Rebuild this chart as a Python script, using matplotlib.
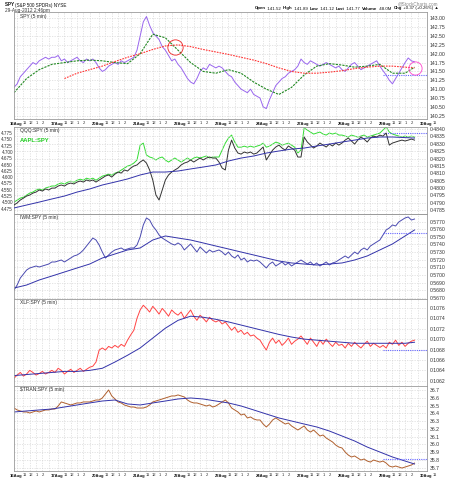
import numpy as np
import matplotlib
matplotlib.use("Agg")
import matplotlib.pyplot as plt

plt.rcParams['font.family'] = ['Liberation Sans', 'DejaVu Sans']
NARROW = ['Liberation Sans Narrow', 'Liberation Sans', 'DejaVu Sans']

# ---------------- data ----------------
day_labels = ["16Aug", "17Aug", "20Aug", "21Aug", "22Aug", "23Aug", "24Aug",
              "27Aug", "28Aug", "29Aug", "30Aug"]
hour_labels = ["11", "12", "1", "2"]

# half-hour samples, 13 per session (9:30 .. 15:30), last session to 14:30
spy = [141.05, 141.15, 141.35, 141.45, 141.55, 141.65, 141.75, 141.70, 141.80, 141.85, 141.90, 141.85, 141.90,
       141.90, 141.95, 141.80, 141.85, 141.75, 141.80, 141.85, 141.90, 141.80, 141.75, 141.85, 141.80, 141.85,
       141.75, 141.60, 141.50, 141.55, 141.65, 141.70, 141.75, 141.70, 141.80, 141.75, 141.80, 141.85, 141.90,
       142.10, 142.50, 142.90, 143.05, 142.80, 142.60, 142.50, 142.40, 142.20, 142.10, 141.95, 141.80, 141.85,
       141.70, 141.60, 141.45, 141.30, 141.20, 141.15, 141.30, 141.50, 141.60, 141.55, 141.70, 141.65, 141.60,
       141.65, 141.60, 141.50, 141.40, 141.35, 141.20, 141.10, 141.00, 140.95, 140.90, 141.00, 140.85, 140.80,
       140.75, 140.50, 140.45, 140.70, 140.90, 141.10, 141.20, 141.30, 141.35, 141.45, 141.50, 141.55, 141.65,
       141.85, 141.75, 141.70, 141.80, 141.75, 141.70, 141.65, 141.70, 141.75, 141.70, 141.65, 141.60, 141.65,
       141.55, 141.50, 141.60, 141.70, 141.75, 141.65, 141.55, 141.60, 141.65, 141.70, 141.75, 141.80, 141.65,
       141.52, 141.40, 141.25, 141.15, 141.30, 141.45, 141.60, 141.75, 141.88, 141.80, 141.77]
# moving averages sampled every 4 half-hours (plus last)
spy_ma_fast = [140.90, 141.30, 141.55, 141.70, 141.75, 141.80, 141.82, 141.80, 141.75, 141.72, 142.00,
               142.55, 142.45, 142.10, 141.75, 141.50, 141.45, 141.55, 141.45, 141.20, 141.00, 140.85,
               141.05, 141.40, 141.65, 141.72, 141.68, 141.62, 141.65, 141.70, 141.45, 141.45, 141.62]
spy_ma_slow = [141.30, 141.45, 141.55, 141.65, 141.78, 141.90, 142.00, 142.12, 142.22, 142.25, 142.20,
               142.12, 142.05, 141.98, 141.90, 141.82, 141.72, 141.60, 141.50, 141.45, 141.45, 141.48,
               141.52, 141.58, 141.62, 141.65, 141.65, 141.62, 141.60]
spy_prev_close = 141.40

qqq_spy = [0.47884, 0.47898, 0.47918, 0.47931, 0.47945, 0.47952, 0.47965, 0.47972, 0.47986, 0.47979, 0.47993, 0.47986, 0.47999,
           0.47999, 0.48013, 0.48020, 0.48013, 0.48027, 0.48033, 0.48027, 0.48040, 0.48047, 0.48040, 0.48054, 0.48047, 0.48054,
           0.48040, 0.48054, 0.48067, 0.48081, 0.48088, 0.48074, 0.48094, 0.48108, 0.48101, 0.48122, 0.48115, 0.48135, 0.48149,
           0.48156, 0.48176, 0.48190, 0.48169, 0.48122, 0.48054, 0.47952, 0.47918, 0.47986, 0.48054, 0.48088, 0.48108, 0.48122,
           0.48135, 0.48156, 0.48169, 0.48176, 0.48190, 0.48176, 0.48190, 0.48203, 0.48190, 0.48203, 0.48210, 0.48203, 0.48203,
           0.48176, 0.48135, 0.48122, 0.48257, 0.48325, 0.48271, 0.48237, 0.48230, 0.48244, 0.48237, 0.48244, 0.48230, 0.48237,
           0.48257, 0.48278, 0.48190, 0.48223, 0.48257, 0.48278, 0.48291, 0.48271, 0.48257, 0.48285, 0.48271, 0.48257, 0.48210,
           0.48210, 0.48346, 0.48312, 0.48291, 0.48271, 0.48285, 0.48305, 0.48291, 0.48278, 0.48298, 0.48285, 0.48305, 0.48291,
           0.48305, 0.48325, 0.48339, 0.48319, 0.48298, 0.48325, 0.48346, 0.48332, 0.48312, 0.48339, 0.48352, 0.48346, 0.48359,
           0.48352, 0.48373, 0.48291, 0.48305, 0.48312, 0.48319, 0.48325, 0.48319, 0.48325, 0.48332, 0.48325]
qqq_spy_ma = [0.47864, 0.47884, 0.47904, 0.47925, 0.47945, 0.47972, 0.47993, 0.48020, 0.48040, 0.48061, 0.48088,
              0.48108, 0.48108, 0.48115, 0.48129, 0.48142, 0.48156, 0.48183, 0.48203, 0.48217, 0.48237, 0.48251,
              0.48264, 0.48271, 0.48285, 0.48298, 0.48312, 0.48325, 0.48339, 0.48346, 0.48346, 0.48342, 0.48339]
qqq_spy_prev = 0.48375
aapl_spy = [4.501, 4.509, 4.517, 4.521, 4.529, 4.537, 4.541, 4.549, 4.553, 4.549, 4.557, 4.561, 4.565,
            4.565, 4.573, 4.577, 4.573, 4.580, 4.584, 4.580, 4.588, 4.592, 4.588, 4.596, 4.592, 4.596,
            4.588, 4.596, 4.604, 4.608, 4.612, 4.608, 4.616, 4.620, 4.628, 4.636, 4.644, 4.648, 4.656,
            4.668, 4.727, 4.735, 4.688, 4.680, 4.676, 4.668, 4.676, 4.680, 4.668, 4.660, 4.668, 4.676,
            4.668, 4.660, 4.668, 4.676, 4.668, 4.676, 4.680, 4.676, 4.680, 4.684, 4.676, 4.680, 4.680,
            4.680, 4.708, 4.735, 4.755, 4.767, 4.739, 4.719, 4.719, 4.723, 4.719, 4.723, 4.719, 4.723,
            4.727, 4.735, 4.719, 4.723, 4.731, 4.739, 4.735, 4.727, 4.731, 4.735, 4.727, 4.719, 4.696,
            4.708, 4.795, 4.787, 4.779, 4.771, 4.775, 4.779, 4.771, 4.767, 4.775, 4.771, 4.775, 4.767,
            4.767, 4.763, 4.759, 4.767, 4.763, 4.759, 4.763, 4.767, 4.759, 4.763, 4.767, 4.771, 4.775,
            4.787, 4.799, 4.779, 4.771, 4.767, 4.763, 4.759, 4.763, 4.759, 4.763, 4.759]

iwm_spy = [0.56801, 0.56867, 0.56959, 0.57012, 0.57064, 0.57091, 0.57104, 0.57117, 0.57104, 0.57117, 0.57130, 0.57143, 0.57170,
           0.57170, 0.57183, 0.57196, 0.57170, 0.57196, 0.57222, 0.57249, 0.57262, 0.57288, 0.57328, 0.57380, 0.57433, 0.57485,
           0.57459, 0.57393, 0.57301, 0.57222, 0.57262, 0.57301, 0.57328, 0.57341, 0.57354, 0.57328, 0.57341, 0.57354, 0.57354,
           0.57393, 0.57499, 0.57657, 0.57749, 0.57722, 0.57643, 0.57591, 0.57525, 0.57485, 0.57459, 0.57433, 0.57407, 0.57393,
           0.57420, 0.57393, 0.57328, 0.57367, 0.57407, 0.57354, 0.57301, 0.57367, 0.57328, 0.57288, 0.57328, 0.57301, 0.57314,
           0.57328, 0.57301, 0.57262, 0.57301, 0.57249, 0.57222, 0.57262, 0.57196, 0.57222, 0.57170, 0.57196, 0.57183, 0.57196,
           0.57170, 0.57130, 0.57091, 0.57143, 0.57170, 0.57117, 0.57143, 0.57170, 0.57130, 0.57157, 0.57117, 0.57143, 0.57170,
           0.57196, 0.57170, 0.57143, 0.57170, 0.57130, 0.57157, 0.57117, 0.57143, 0.57170, 0.57130, 0.57157, 0.57170, 0.57196,
           0.57222, 0.57249, 0.57222, 0.57262, 0.57301, 0.57275, 0.57328, 0.57354, 0.57328, 0.57380, 0.57407, 0.57433, 0.57459,
           0.57525, 0.57591, 0.57617, 0.57657, 0.57643, 0.57696, 0.57722, 0.57749, 0.57762, 0.57722, 0.57735]
iwm_spy_ma = [0.56827, 0.56867, 0.56933, 0.56985, 0.57038, 0.57091, 0.57143, 0.57222, 0.57275, 0.57328, 0.57354,
              0.57459, 0.57512, 0.57485, 0.57459, 0.57420, 0.57380, 0.57341, 0.57301, 0.57262, 0.57222, 0.57183,
              0.57157, 0.57143, 0.57130, 0.57143, 0.57157, 0.57196, 0.57249, 0.57328, 0.57407, 0.57512, 0.57591]
iwm_spy_prev = 0.57550

xlf_spy = [0.10625, 0.10631, 0.10636, 0.10629, 0.10633, 0.10640, 0.10636, 0.10631, 0.10634, 0.10638, 0.10633, 0.10636, 0.10640,
           0.10636, 0.10644, 0.10640, 0.10633, 0.10638, 0.10642, 0.10636, 0.10640, 0.10644, 0.10638, 0.10642, 0.10646, 0.10648,
           0.10656, 0.10679, 0.10683, 0.10679, 0.10686, 0.10683, 0.10688, 0.10684, 0.10690, 0.10686, 0.10698, 0.10708, 0.10717,
           0.10740, 0.10756, 0.10765, 0.10759, 0.10752, 0.10763, 0.10756, 0.10748, 0.10759, 0.10752, 0.10744, 0.10756, 0.10750,
           0.10746, 0.10752, 0.10740, 0.10748, 0.10756, 0.10744, 0.10736, 0.10746, 0.10740, 0.10733, 0.10742, 0.10736, 0.10733,
           0.10736, 0.10729, 0.10733, 0.10725, 0.10717, 0.10723, 0.10713, 0.10717, 0.10709, 0.10713, 0.10706, 0.10708, 0.10702,
           0.10698, 0.10688, 0.10679, 0.10694, 0.10702, 0.10692, 0.10698, 0.10688, 0.10694, 0.10702, 0.10690, 0.10696, 0.10700,
           0.10706, 0.10698, 0.10690, 0.10702, 0.10694, 0.10686, 0.10698, 0.10690, 0.10700, 0.10692, 0.10686, 0.10694, 0.10688,
           0.10690, 0.10683, 0.10692, 0.10686, 0.10694, 0.10688, 0.10683, 0.10690, 0.10696, 0.10686, 0.10692, 0.10688, 0.10684,
           0.10688, 0.10683, 0.10694, 0.10690, 0.10698, 0.10688, 0.10694, 0.10686, 0.10692, 0.10696, 0.10698]
xlf_spy_ma = [0.10630, 0.10632, 0.10634, 0.10636, 0.10638, 0.10638, 0.10640, 0.10644, 0.10656, 0.10669, 0.10683,
              0.10702, 0.10721, 0.10736, 0.10744, 0.10742, 0.10738, 0.10733, 0.10727, 0.10721, 0.10715, 0.10709,
              0.10704, 0.10700, 0.10698, 0.10696, 0.10694, 0.10692, 0.10692, 0.10692, 0.10692, 0.10692, 0.10694]
xlf_spy_prev = 0.10680

tran_spy = [36.468, 36.443, 36.430, 36.417, 36.417, 36.404, 36.417, 36.430, 36.417, 36.430, 36.443, 36.443, 36.455,
            36.455, 36.494, 36.546, 36.533, 36.520, 36.507, 36.520, 36.533, 36.533, 36.546, 36.546, 36.546, 36.558,
            36.571, 36.571, 36.597, 36.649, 36.700, 36.623, 36.584, 36.546, 36.533, 36.507, 36.494, 36.481, 36.481,
            36.468, 36.468, 36.468, 36.481, 36.507, 36.546, 36.558, 36.571, 36.584, 36.597, 36.610, 36.623, 36.623,
            36.636, 36.623, 36.610, 36.571, 36.546, 36.533, 36.533, 36.520, 36.507, 36.494, 36.507, 36.481, 36.494,
            36.520, 36.546, 36.571, 36.533, 36.468, 36.443, 36.417, 36.378, 36.391, 36.340, 36.353, 36.327, 36.314,
            36.314, 36.262, 36.224, 36.262, 36.314, 36.340, 36.314, 36.288, 36.262, 36.275, 36.237, 36.211, 36.185,
            36.211, 36.237, 36.185, 36.159, 36.185, 36.147, 36.108, 36.121, 36.082, 36.057, 36.031, 35.992, 35.966,
            35.954, 35.902, 35.863, 35.838, 35.851, 35.825, 35.799, 35.812, 35.786, 35.773, 35.799, 35.786, 35.773,
            35.786, 35.760, 35.722, 35.709, 35.722, 35.709, 35.696, 35.709, 35.722, 35.735, 35.760]
tran_spy_ma = [36.417, 36.430, 36.443, 36.455, 36.481, 36.507, 36.533, 36.558, 36.571, 36.520, 36.507,
               36.533, 36.558, 36.584, 36.597, 36.584, 36.558, 36.533, 36.494, 36.443, 36.391, 36.340,
               36.301, 36.262, 36.224, 36.172, 36.108, 36.044, 35.966, 35.902, 35.838, 35.786, 35.748]
tran_spy_prev = 35.81

# ---------------- layout helpers ----------------
W, H = 460, 480
SESSION = 6.5
SLOT = 0.5 / SESSION
L_PX, R_PX, DAY_PX = 14, 427, 41.0
XMAX = (R_PX - L_PX) / DAY_PX


def xs(n):
    i = np.arange(n)
    return i // 13 + (i % 13) * SLOT


MA_IDX = np.array(list(range(0, 125, 4)) + [127])


def xma(start=0):
    i = MA_IDX[start:]
    return i // 13 + (i % 13) * SLOT


def box(top, bottom):
    return [L_PX / W, 1 - bottom / H, (R_PX - L_PX) / W, (bottom - top) / H]


fig = plt.figure(figsize=(W / 100, H / 100), dpi=100)
fig.patch.set_facecolor("white")

panels = [(12, 119), (127, 214), (214, 299), (299, 386), (386, 471)]
axs = [fig.add_axes(box(t, b)) for t, b in panels]

grid_x = [d + h / SESSION for d in range(11) for h in (0.5, 1.5, 2.5, 3.5, 4.5, 5.5)]
grid_x = [g for g in grid_x if g < XMAX]

GRID = dict(color="#d4d4d4", lw=0.45, ls=(0, (2, 2)))
TICK_FS = 3.7


def style(ax, yticks, fmt, ylim):
    ax.set_xlim(0, XMAX)
    ax.set_ylim(*ylim)
    for s in ax.spines.values():
        s.set_color("#9a9a9a")
        s.set_linewidth(0.6)
    ax.yaxis.tick_right()
    ax.set_yticks(yticks)
    ax.set_yticklabels([fmt % v for v in yticks])
    ax.set_xticks(grid_x)
    ax.set_xticklabels([])
    ax.tick_params(axis="both", length=0, labelsize=TICK_FS, pad=2.2, colors="#333333")
    ax.grid(True, **GRID)
    ax.set_axisbelow(True)


LW = 0.7

# Panel 1: SPY
ax = axs[0]
style(ax, np.arange(140.25, 143.01, 0.25), "%.2f", (140.157, 143.178))
ax.plot(xs(len(spy)), spy, color="#9966ee", lw=LW)
ax.plot(xma(), spy_ma_fast, color="#228822", lw=0.8, ls=(0, (2, 1)))
ax.plot(xma(4), spy_ma_slow, color="#ff3333", lw=0.8, ls=(0, (1.5, 1)))
ax.plot([9, XMAX], [spy_prev_close] * 2, color="#6666ff", lw=0.8, ls=(0, (1, 1)))
ax.plot([(175 - L_PX) / DAY_PX], [142.19], marker="o", ms=11, mfc="none", mec="#ee2222", mew=0.6)
ax.plot([(415 - L_PX) / DAY_PX], [141.60], marker="o", ms=9.5, mfc="none", mec="#ff44cc", mew=0.6)
ax.text(0.014, 0.985, "SPY (5 min)", transform=ax.transAxes, fontsize=3.6, va="top", ha="left", color="#333333")

# Panel 2: QQQ:SPY (right) and AAPL:SPY (left)
ax = axs[1]
style(ax, np.arange(0.4785, 0.48401, 0.0005), "%.4f", (0.47823, 0.48414))
axl = ax.twinx()
ax.yaxis.tick_right()          # twinx moves the host's ticks to the left; put them back
ax.tick_params(axis="y", length=0, labelsize=TICK_FS, pad=2.2, colors="#333333")
axl.set_xlim(0, XMAX)
axl.yaxis.tick_left()
axl.set_ylim(4.454, 4.799)
lt = np.arange(4.475, 4.776, 0.025)
axl.set_yticks(lt)
axl.set_yticklabels(["%.3f" % v for v in lt])
axl.tick_params(axis="y", length=0, labelsize=3.3, pad=0.8, colors="#333333")
for lab in axl.get_yticklabels():
    lab.set_fontfamily(NARROW)
for s in axl.spines.values():
    s.set_visible(False)
axl.plot(xs(len(aapl_spy)), aapl_spy, color="#33dd33", lw=LW)
ax.plot(xs(len(qqq_spy)), qqq_spy, color="#333333", lw=LW, zorder=3)
ax.plot(xma(), qqq_spy_ma, color="#3333aa", lw=LW, zorder=3)
ax.plot([9, XMAX], [qqq_spy_prev] * 2, color="#6666ff", lw=0.8, ls=(0, (1, 1)))
ax.set_zorder(axl.get_zorder() + 1)
ax.patch.set_visible(False)
ax.text(0.014, 0.985, "QQQ:SPY (5 min)", transform=ax.transAxes, fontsize=3.6, va="top", ha="left", color="#333333")
ax.text(0.014, 0.875, "AAPL:SPY", transform=ax.transAxes, fontsize=4.2, va="top", ha="left",
        color="#22cc22", fontweight="bold")

# Panel 3: IWM:SPY
ax = axs[2]
style(ax, np.arange(0.5670, 0.57701, 0.001), "%.4f", (0.56683, 0.57801))
ax.plot(xs(len(iwm_spy)), iwm_spy, color="#4a4ab0", lw=LW)
ax.plot(xma(), iwm_spy_ma, color="#3333aa", lw=LW)
ax.plot([9, XMAX], [iwm_spy_prev] * 2, color="#6666ff", lw=0.8, ls=(0, (1, 1)))
ax.text(0.014, 0.985, "IWM:SPY (5 min)", transform=ax.transAxes, fontsize=3.6, va="top", ha="left", color="#333333")

# Panel 4: XLF:SPY
ax = axs[3]
style(ax, np.arange(0.1062, 0.10761, 0.0002), "%.4f", (0.10610, 0.10777))
ax.plot(xs(len(xlf_spy)), xlf_spy, color="#ff4444", lw=LW)
ax.plot(xma(), xlf_spy_ma, color="#3333aa", lw=LW)
ax.plot([9, XMAX], [xlf_spy_prev] * 2, color="#6666ff", lw=0.8, ls=(0, (1, 1)))
ax.text(0.014, 0.985, "XLF:SPY (5 min)", transform=ax.transAxes, fontsize=3.6, va="top", ha="left", color="#333333")

# Panel 5: $TRAN:SPY
ax = axs[4]
style(ax, np.arange(35.7, 36.71, 0.1), "%.1f", (35.658, 36.751))
ax.plot(xs(len(tran_spy)), tran_spy, color="#b0602e", lw=LW)
ax.plot(xma(), tran_spy_ma, color="#3333aa", lw=LW)
ax.plot([9, XMAX], [tran_spy_prev] * 2, color="#6666ff", lw=0.8, ls=(0, (1, 1)))
ax.text(0.014, 0.985, "$TRAN:SPY (5 min)", transform=ax.transAxes, fontsize=3.6, va="top", ha="left", color="#333333")


# date / hour labels under panel 1 and panel 5
DATE_END = 8.3 / DAY_PX   # dates end just before the 11 o'clock label


def date_row(ax, yoff):
    tr = ax.get_xaxis_transform()
    for d, lab in enumerate(day_labels):
        ax.text(d + DATE_END, yoff, lab, transform=tr, fontsize=3.0, fontweight="bold",
                family=NARROW, ha="right", va="center", clip_on=False, color="#111111")
        hl = hour_labels if d < 10 else hour_labels[:1]
        for k, h in enumerate(hl):
            ax.text(d + (1.65 + k) / SESSION, yoff, h, transform=tr, fontsize=3.0, family=NARROW,
                    ha="center", va="center", clip_on=False, color="#333333")


date_row(axs[0], -4.5 / 107)
date_row(axs[4], -4.5 / 85)

# header runs of text, fitted to a target pixel width
fig.canvas.draw()
rend = fig.canvas.get_renderer()


def text_run(x0, y, runs, size, target=None, color="#111111"):
    def place(sz):
        objs, x = [], x0
        for txt, bold in runs:
            t = fig.text(x / W, 1 - y / H, txt, fontsize=sz, fontweight="bold" if bold else "normal",
                         va="center", ha="left", color=color)
            objs.append(t)
            x += t.get_window_extent(rend).width
        return objs, x - x0
    objs, width = place(size)
    if target is not None:
        for o in objs:
            o.remove()
        objs, width = place(size * target / width)
    return objs


text_run(5, 5, [("SPY ", True), ("(S&P 500 SPDRs) NYSE", False)], 4.2, target=63)
text_run(5, 10.5, [("29-Aug-2012 2:46pm", False)], 3.5, target=45, color="#333333")
fig.text(438 / W, 1 - 3.5 / H, "@StockCharts.com", fontsize=3.3, va="center", ha="right", color="#888888")
hdr = [("Open", True), (" 141.52  ", False), ("High", True), (" 141.89  ", False), ("Low", True),
       (" 141.12  ", False), ("Last", True), (" 141.77  ", False), ("Volume", True), (" 48.0M  ", False),
       ("Chg", True), (" +0.37 (+0.26%) \u25b2", False)]
text_run(255, 8.5, hdr, 3.6, target=182)

fig.savefig("out.png", dpi=100, facecolor="white")
